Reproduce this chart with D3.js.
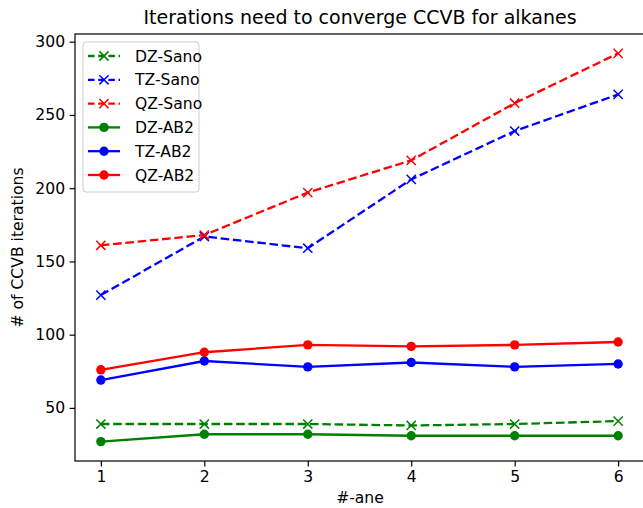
<!DOCTYPE html>
<html>
<head>
<meta charset="utf-8">
<script src="https://cdn.jsdelivr.net/npm/d3@7"></script>
<style>
  body { margin: 0; background: #fff; }
  svg { display: block; font-family: "DejaVu Sans", sans-serif; }
</style>
</head>
<body>
<div id="chart"></div>
<script>
// data
const xs = [1, 2, 3, 4, 5, 6];
const dzSano = [39, 39, 39, 38, 39, 41];
const tzSano = [127, 167, 159, 206, 239, 264];
const qzSano = [161, 168, 197, 219, 258, 292];
const dzAB2 = [27, 32, 32, 31, 31, 31];
const tzAB2 = [69, 82, 78, 81, 78, 80];
const qzAB2 = [76, 88, 93, 92, 93, 95];
const xTicks = [1, 2, 3, 4, 5, 6];
const yTicks = [50, 100, 150, 200, 250, 300];

const series = [
  {name: 'DZ-Sano', values: dzSano, color: 'green', dashed: true, marker: 'x'},
  {name: 'TZ-Sano', values: tzSano, color: 'blue', dashed: true, marker: 'x'},
  {name: 'QZ-Sano', values: qzSano, color: 'red', dashed: true, marker: 'x'},
  {name: 'DZ-AB2', values: dzAB2, color: 'green', dashed: false, marker: 'o'},
  {name: 'TZ-AB2', values: tzAB2, color: 'blue', dashed: false, marker: 'o'},
  {name: 'QZ-AB2', values: qzAB2, color: 'red', dashed: false, marker: 'o'},
];

const W = 643, H = 508;
const margin = {top: 34, right: -1, bottom: 47, left: 75};
const width = W - margin.left - margin.right;
const height = H - margin.top - margin.bottom;
const fs = 15.6;
const lw = 2.3;
const dash = '8.6,3.7';

const x = d3.scaleLinear().domain([0.75, 6.25]).range([0, width]);
const y = d3.scaleLinear().domain([13.75, 305.25]).range([height, 0]);

const svg = d3.select('#chart').append('svg')
  .attr('width', W).attr('height', H);

const g = svg.append('g')
  .attr('transform', `translate(${margin.left},${margin.top})`);

const line = d3.line()
  .x((d, i) => x(xs[i]))
  .y(d => y(d));

function drawMarker(sel, s) {
  if (s.marker === 'o') {
    sel.append('circle').attr('r', 4.7).attr('fill', s.color);
  } else {
    const r = 4.6;
    sel.append('path')
      .attr('d', `M${-r},${-r}L${r},${r}M${-r},${r}L${r},${-r}`)
      .attr('stroke', s.color).attr('stroke-width', 1.5).attr('fill', 'none');
  }
}

series.forEach(s => {
  const sg = g.append('g');
  sg.append('path')
    .datum(s.values)
    .attr('d', line)
    .attr('fill', 'none')
    .attr('stroke', s.color)
    .attr('stroke-width', lw)
    .attr('stroke-dasharray', s.dashed ? dash : null);
  s.values.forEach((v, i) => {
    const m = sg.append('g').attr('transform', `translate(${x(xs[i])},${y(v)})`);
    drawMarker(m, s);
  });
});

// axes
const xAxis = g.append('g')
  .attr('transform', `translate(0,${height})`)
  .call(d3.axisBottom(x).tickValues(xTicks).tickSize(5.4).tickPadding(4.5).tickFormat(d3.format('d')));
const yAxis = g.append('g')
  .call(d3.axisLeft(y).tickValues(yTicks).tickSize(5.4).tickPadding(4.5).tickFormat(d3.format('d')));
[xAxis, yAxis].forEach(a => {
  a.select('.domain').remove();
  a.selectAll('line').attr('stroke', '#000').attr('stroke-width', 1.2);
  a.selectAll('text').attr('font-size', fs).attr('fill', '#000')
    .attr('font-family', '"DejaVu Sans", sans-serif');
});

g.append('rect')
  .attr('width', width).attr('height', height)
  .attr('fill', 'none').attr('stroke', '#000').attr('stroke-width', 1.2);

// title and labels
svg.append('text')
  .attr('x', 360).attr('y', 24)
  .attr('text-anchor', 'middle').attr('font-size', 19)
  .text('Iterations need to converge CCVB for alkanes');

svg.append('text')
  .attr('x', 360).attr('y', 503)
  .attr('text-anchor', 'middle').attr('font-size', fs)
  .text('#-ane');

svg.append('text')
  .attr('transform', `translate(23,${margin.top + height / 2}) rotate(-90)`)
  .attr('text-anchor', 'middle').attr('font-size', fs)
  .text('# of CCVB iterations');

// legend
const lg = g.append('g').attr('transform', 'translate(8,8)');
lg.append('rect')
  .attr('width', 116).attr('height', 150).attr('rx', 3)
  .attr('fill', '#fff').attr('fill-opacity', 0.8)
  .attr('stroke', '#ccc').attr('stroke-width', 1);
series.forEach((s, i) => {
  const yy = 14 + i * 23.8;
  const row = lg.append('g').attr('transform', `translate(0,${yy})`);
  row.append('line')
    .attr('x1', 5).attr('x2', 37)
    .attr('stroke', s.color).attr('stroke-width', lw)
    .attr('stroke-dasharray', s.dashed ? '6.5,3.7' : null);
  const m = row.append('g').attr('transform', 'translate(21,0)');
  drawMarker(m, s);
  row.append('text')
    .attr('x', 52).attr('y', 5.5).attr('font-size', fs)
    .text(s.name);
});
</script>
</body>
</html>
